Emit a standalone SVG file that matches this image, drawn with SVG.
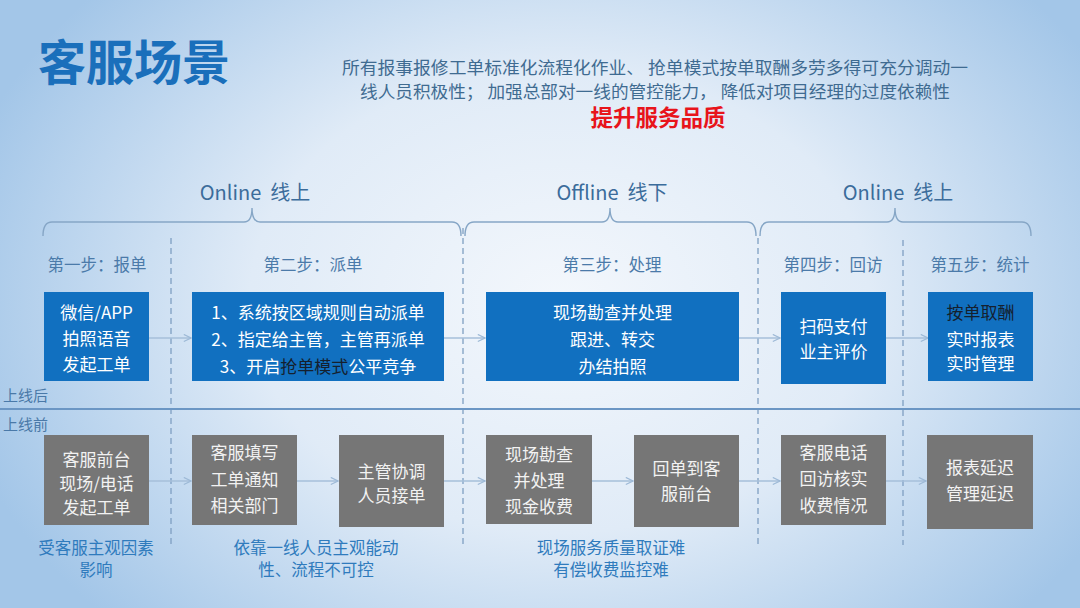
<svg xmlns="http://www.w3.org/2000/svg" width="1080" height="608" viewBox="0 0 1080 608">
<defs>
<radialGradient id="bg" cx="560" cy="300" r="620" gradientUnits="userSpaceOnUse" gradientTransform="translate(560 300) scale(1 0.75) translate(-560 -300)">
<stop offset="0" stop-color="#f3f7fc"/>
<stop offset="0.5" stop-color="#e0ebf7"/>
<stop offset="1" stop-color="#a3c6e8"/>
</radialGradient>
<marker id="ah" viewBox="0 0 10 10" refX="9" refY="5" markerWidth="9" markerHeight="9" markerUnits="userSpaceOnUse" orient="auto">
<path d="M1,1 L9,5 L1,9" fill="none" stroke="#9db9d6" stroke-width="1.3"/>
</marker>
<style>
text{font-family:"Noto Sans CJK SC","Noto Sans",sans-serif;}
.hdr{font-size:16.5px;fill:#3f6b91;}
.sec{font-size:20px;fill:#3b6c9b;text-anchor:middle;}
.step{font-size:16.5px;fill:#4b7aa9;text-anchor:middle;}
.bt{font-size:17px;fill:#ffffff;text-anchor:middle;}
.gt{font-size:17px;fill:#f2f2f2;text-anchor:middle;}
.dk{fill:#15202e;}
.blue{fill:#1170c0;}
.gray{fill:#767676;}
.note{font-size:16.5px;fill:#2f7bbd;text-anchor:middle;}
.lbl{font-size:15px;fill:#4a79a8;}
.brace{fill:none;stroke:#86a6c6;stroke-width:1.4;}
.dash{stroke:#7f9fc2;stroke-width:1.3;stroke-dasharray:6 4;fill:none;}
.arr{stroke:#a6bfda;stroke-width:1.3;fill:none;marker-end:url(#ah);}
</style>
</defs>
<rect x="0" y="0" width="1080" height="608" fill="url(#bg)"/>

<g id="title">
<text x="38" y="80" font-size="48" font-weight="bold" fill="#1a6fbb">客服场景</text>
</g>
<g id="header">
<text class="hdr" x="342" y="74" textLength="626" lengthAdjust="spacingAndGlyphs">所有报事报修工单标准化流程化作业、 抢单模式按单取酬多劳多得可充分调动一</text>
<text class="hdr" x="655" y="98" text-anchor="middle" textLength="590" lengthAdjust="spacingAndGlyphs">线人员积极性； 加强总部对一线的管控能力， 降低对项目经理的过度依赖性</text>
<text x="658" y="126" font-size="22.5" font-weight="bold" fill="#e8141b" text-anchor="middle">提升服务品质</text>
</g>

<g id="sections">
<text class="sec" x="255" y="200" xml:space="preserve">Online  线上</text>
<text class="sec" x="612" y="200" xml:space="preserve">Offline  线下</text>
<text class="sec" x="898" y="200" xml:space="preserve">Online  线上</text>
<path class="brace" d="M43,236 Q43,222 52,222 H244 Q252,222 252,208 Q252,222 260,222 H452 Q461,222 461,236"/>
<path class="brace" d="M465,236 Q465,222 474,222 H602 Q610,222 610,208 Q610,222 618,222 H747 Q756,222 756,236"/>
<path class="brace" d="M760,236 Q760,222 769,222 H887 Q895,222 895,208 Q895,222 903,222 H1022 Q1031,222 1031,236"/>
</g>

<g id="dividers">
<line class="dash" x1="171" y1="238" x2="171" y2="545"/>
<line class="dash" x1="463" y1="228" x2="463" y2="545"/>
<line class="dash" x1="758" y1="238" x2="758" y2="545"/>
<line class="dash" x1="903" y1="240" x2="903" y2="545"/>
<line x1="0" y1="409" x2="1080" y2="409" stroke="#6b96c4" stroke-width="2"/>
<text class="lbl" x="3" y="401">上线后</text>
<text class="lbl" x="3" y="430">上线前</text>
</g>

<g id="steps">
<text class="step" x="97" y="271">第一步：报单</text>
<text class="step" x="313" y="271">第二步：派单</text>
<text class="step" x="612" y="271">第三步：处理</text>
<text class="step" x="833" y="271">第四步：回访</text>
<text class="step" x="980" y="271">第五步：统计</text>
</g>

<g id="connectors">
<line class="arr" x1="149" y1="338" x2="191" y2="338"/>
<line class="arr" x1="444" y1="338" x2="485" y2="338"/>
<line class="arr" x1="739" y1="338" x2="780" y2="338"/>
<line class="arr" x1="886" y1="338" x2="928" y2="338"/>
<line class="arr" x1="149" y1="481" x2="191" y2="481"/>
<line class="arr" x1="297" y1="481" x2="338" y2="481"/>
<line class="arr" x1="444" y1="481" x2="485" y2="481"/>
<line class="arr" x1="592" y1="481" x2="633" y2="481"/>
<line class="arr" x1="739" y1="481" x2="780" y2="481"/>
<line class="arr" x1="886" y1="481" x2="926" y2="481"/>
</g>

<g id="b1">
<rect class="blue" x="44" y="292" width="105" height="89"/>
<text class="bt" x="96.5" y="319">微信/APP</text>
<text class="bt" x="96.5" y="345">拍照语音</text>
<text class="bt" x="96.5" y="371">发起工单</text>
</g>
<g id="b2">
<rect class="blue" x="192" y="292" width="252" height="89"/>
<text class="bt" x="318" y="319" font-size="17.5">1、系统按区域规则自动派单</text>
<text class="bt" x="318" y="346" font-size="17.5">2、指定给主管，主管再派单</text>
<text class="bt" x="318" y="373" font-size="17.5">3、开启<tspan class="dk">抢单模式</tspan>公平竞争</text>
</g>
<g id="b3">
<rect class="blue" x="486" y="292" width="253" height="89"/>
<text class="bt" x="612.5" y="319">现场勘查并处理</text>
<text class="bt" x="612.5" y="346">跟进、转交</text>
<text class="bt" x="612.5" y="373">办结拍照</text>
</g>
<g id="b4">
<rect class="blue" x="781" y="292" width="105" height="92"/>
<text class="bt" x="833.5" y="333">扫码支付</text>
<text class="bt" x="833.5" y="358">业主评价</text>
</g>
<g id="b5">
<rect class="blue" x="928" y="292" width="105" height="89"/>
<text class="bt dk" x="980.5" y="319">按单取酬</text>
<text class="bt" x="980.5" y="346">实时报表</text>
<text class="bt" x="980.5" y="370">实时管理</text>
</g>

<g id="g1">
<rect class="gray" x="44" y="435" width="105" height="90"/>
<text class="gt" x="96.5" y="466">客服前台</text>
<text class="gt" x="96.5" y="490">现场/电话</text>
<text class="gt" x="96.5" y="514">发起工单</text>
</g>
<g id="g2">
<rect class="gray" x="192" y="435" width="105" height="90"/>
<text class="gt" x="244.5" y="459">客服填写</text>
<text class="gt" x="244.5" y="486">工单通知</text>
<text class="gt" x="244.5" y="512">相关部门</text>
</g>
<g id="g3">
<rect class="gray" x="339" y="435" width="105" height="92"/>
<text class="gt" x="391.5" y="478">主管协调</text>
<text class="gt" x="391.5" y="502">人员接单</text>
</g>
<g id="g4">
<rect class="gray" x="486" y="435" width="106" height="89"/>
<text class="gt" x="539" y="461">现场勘查</text>
<text class="gt" x="539" y="487">并处理</text>
<text class="gt" x="539" y="513">现金收费</text>
</g>
<g id="g5">
<rect class="gray" x="634" y="435" width="105" height="92"/>
<text class="gt" x="686.5" y="475">回单到客</text>
<text class="gt" x="686.5" y="500">服前台</text>
</g>
<g id="g6">
<rect class="gray" x="781" y="435" width="105" height="90"/>
<text class="gt" x="833.5" y="459">客服电话</text>
<text class="gt" x="833.5" y="485">回访核实</text>
<text class="gt" x="833.5" y="512">收费情况</text>
</g>
<g id="g7">
<rect class="gray" x="927" y="435" width="106" height="94"/>
<text class="gt" x="980" y="474">报表延迟</text>
<text class="gt" x="980" y="500">管理延迟</text>
</g>

<g id="notes">
<text class="note" x="96" y="554">受客服主观因素</text>
<text class="note" x="96" y="576">影响</text>
<text class="note" x="316" y="554">依靠一线人员主观能动</text>
<text class="note" x="316" y="576">性、流程不可控</text>
<text class="note" x="611" y="554">现场服务质量取证难</text>
<text class="note" x="611" y="576">有偿收费监控难</text>
</g>
</svg>
